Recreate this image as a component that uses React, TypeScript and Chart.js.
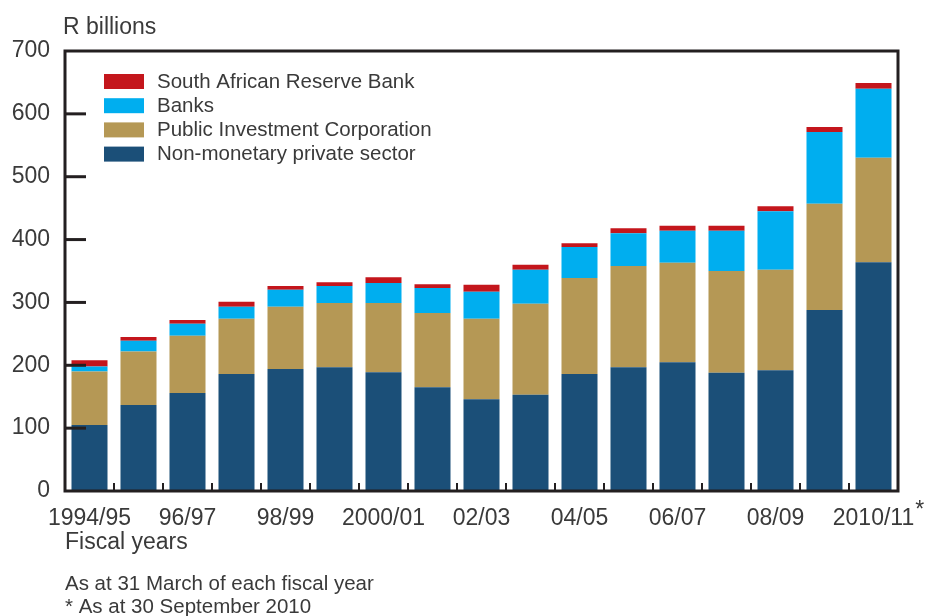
import React, { useEffect, useRef } from "react";
import { Chart, registerables } from "chart.js";

Chart.register(...registerables);

const categories = [
  "1994/95", "95/96", "96/97", "97/98", "98/99", "99/00", "2000/01", "01/02", "02/03",
  "03/04", "04/05", "05/06", "06/07", "07/08", "08/09", "09/10", "2010/11",
];
const nonMonetaryPrivate = [105, 137, 156, 186, 194, 197, 189, 165, 146, 153, 186, 197, 205, 188, 192, 288, 364];
const publicInvestmentCorp = [85, 85, 91, 88, 99, 102, 110, 118, 128, 145, 153, 161, 158, 162, 160, 169, 166];
const banks = [8, 17, 19, 19, 27, 27, 32, 40, 43, 54, 49, 52, 51, 64, 93, 114, 110];
const reserveBank = [10, 6, 6, 8, 6, 6, 9, 6, 11, 8, 6, 8, 8, 8, 8, 8, 9];
const yTickValues = [0, 100, 200, 300, 400, 500, 600, 700];

const FONT = "'Liberation Sans', Arial, sans-serif";
const TEXT = "#3a3a3a";
const FRAME = "#231f20";

const overlayPlugin = {
  id: "overlay",
  afterDraw(chart: any) {
    const { ctx, chartArea } = chart;
    const { left, right, top, bottom } = chartArea;
    const y = chart.scales.y;
    const x = chart.scales.x;
    ctx.save();
    // frame
    ctx.strokeStyle = FRAME;
    ctx.lineWidth = 3;
    ctx.strokeRect(left, top, right - left, bottom - top);
    // y ticks (inward)
    ctx.lineWidth = 3;
    yTickValues.slice(1, -1).forEach((v) => {
      const py = y.getPixelForValue(v);
      ctx.beginPath();
      ctx.moveTo(left, py);
      ctx.lineTo(left + 21, py);
      ctx.stroke();
    });
    // x ticks at category boundaries
    ctx.lineWidth = 2;
    for (let i = 1; i < categories.length; i++) {
      const px = (x.getPixelForValue(i - 1) + x.getPixelForValue(i)) / 2;
      ctx.beginPath();
      ctx.moveTo(px, bottom);
      ctx.lineTo(px, bottom - 8);
      ctx.stroke();
    }
    // legend (reverse order)
    const ds = chart.data.datasets;
    ctx.font = `20.5px ${FONT}`;
    ctx.textBaseline = "middle";
    ctx.textAlign = "left";
    for (let k = 0; k < ds.length; k++) {
      const d = ds[ds.length - 1 - k];
      const by = 74 + k * 24.2;
      ctx.fillStyle = d.backgroundColor;
      ctx.fillRect(104, by, 40, 15);
      ctx.fillStyle = TEXT;
      ctx.fillText(d.label, 157, by + 8);
    }
    // titles and notes
    ctx.fillStyle = TEXT;
    ctx.font = `23px ${FONT}`;
    ctx.textBaseline = "middle";
    ctx.fillText("R billions", 63, 28);
    ctx.fillText("Fiscal years", 65, 543);
    ctx.font = `20.5px ${FONT}`;
    ctx.fillText("As at 31 March of each fiscal year", 65, 584);
    ctx.fillText("* As at 30 September 2010", 65, 607);
    // asterisk on last label
    ctx.font = `23px ${FONT}`;
    const lastX = x.getPixelForValue(categories.length - 1);
    const w = ctx.measureText(categories[categories.length - 1]).width;
    ctx.fillText("*", lastX + w / 2 + 1, 511);
    ctx.restore();
  },
};

export default function App() {
  const ref = useRef<HTMLCanvasElement | null>(null);
  useEffect(() => {
    if (!ref.current) return;
    const chart = new Chart(ref.current, {
      type: "bar",
      data: {
        labels: categories,
        datasets: [
          { label: "Non-monetary private sector", data: nonMonetaryPrivate, backgroundColor: "#1b4f78" },
          { label: "Public Investment Corporation", data: publicInvestmentCorp, backgroundColor: "#b59855" },
          { label: "Banks", data: banks, backgroundColor: "#00aeef" },
          { label: "South African Reserve Bank", data: reserveBank, backgroundColor: "#c4161c" },
        ],
      },
      options: {
        responsive: false,
        animation: false,
        layout: { padding: { top: 51, right: 27, left: 0, bottom: 0 } },
        datasets: { bar: { barPercentage: 0.735, categoryPercentage: 1, borderWidth: 0 } },
        plugins: { legend: { display: false }, tooltip: { enabled: false } },
        scales: {
          x: {
            stacked: true,
            grid: { display: false, drawTicks: false },
            border: { display: false },
            ticks: {
              autoSkip: false,
              maxRotation: 0,
              padding: 14,
              color: TEXT,
              font: { family: FONT, size: 23 },
              callback: (_v: any, i: number) => (i % 2 === 0 ? categories[i] : ""),
            },
            afterFit: (s: any) => {
              s.height = 125;
              s.paddingLeft = 0;
              s.paddingRight = 0;
            },
          },
          y: {
            stacked: true,
            min: 0,
            max: 700,
            grid: { display: false, drawTicks: false },
            border: { display: false },
            afterBuildTicks: (s: any) => {
              s.ticks = yTickValues.map((v) => ({ value: v }));
            },
            ticks: {
              padding: 15,
              color: TEXT,
              font: { family: FONT, size: 23 },
            },
            afterFit: (s: any) => {
              s.width = 65;
              s.paddingTop = 0;
              s.paddingBottom = 0;
            },
          },
        },
      },
      plugins: [overlayPlugin],
    });
    return () => chart.destroy();
  }, []);
  return (
    <div style={{ position: "fixed", left: 0, top: 0, width: 925, height: 616, background: "#fff" }}>
      <canvas ref={ref} width={925} height={616} />
    </div>
  );
}
